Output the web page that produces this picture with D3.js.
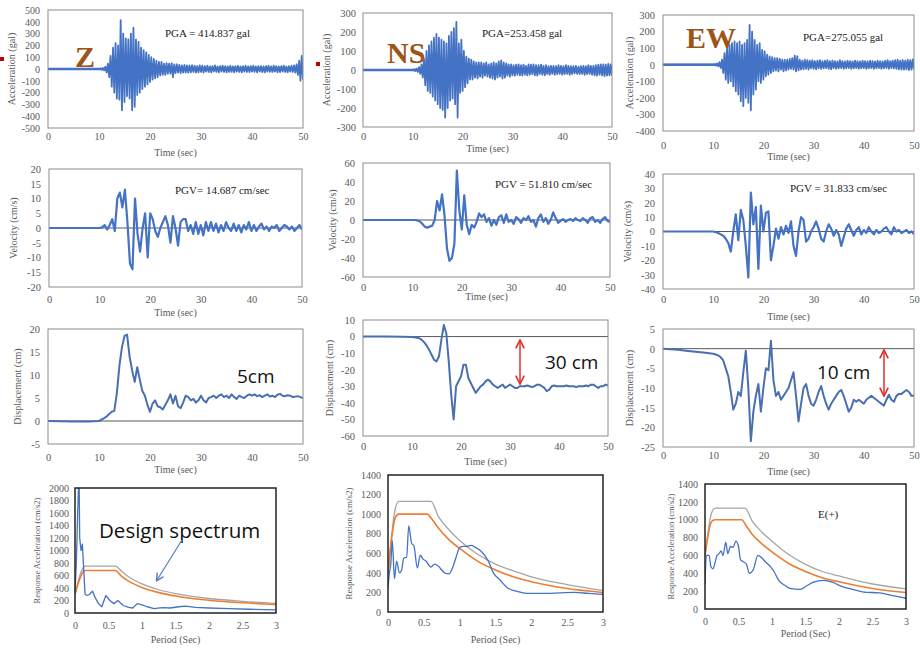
<!DOCTYPE html>
<html>
<head>
<meta charset="utf-8">
<script src="https://cdn.jsdelivr.net/npm/d3@7"></script>
<style>
  body { margin: 0; background: #fff; }
  svg { display: block; }
</style>
</head>
<body>
<script>
// ---- acceleration (gal), sampled every 0.25 s from t = 10 s ----
const accelZ = [
  0, 4, -5, 8, -12, 20, -30, 45,
  -70, 110, -150, 180, -200, 220, -250, 200,
  -260, 414, -350, 300, -280, 260, -230, 250,
  -250, 300, -350, 350, -320, 250, -220, 230,
  -200, 180, -170, 160, -150, 140, -130, 120,
  -110, 100, -90, 85, -80, 70, -70, 60,
  -55, 60, -50, 45, -50, 50, -40, 45,
  -40, 50, -70, 40, -35, 40, -30, 35,
  -35, 30, -30, 35, -30, 30, -30, 30,
  -28, 32, -25, 28, -30, 25, -28, 30,
  -25, 28, -30, 25, -22, 28, -25, 22,
  -28, 25, -22, 30, -25, 22, -28, 25,
  -22, 28, -25, 24, -28, 22, -25, 28,
  -24, 22, -28, 25, -22, 26, -25, 22,
  -28, 24, -22, 28, -25, 22, -26, 25,
  -22, 28, -24, 22, -28, 25, -22, 24,
  -26, 22, -28, 25, -22, 28, -24, 22,
  -25, 28, -22, 24, -28, 22, -26, 25,
  -22, 28, -25, 22, -28, 24, -22, 28,
  -25, 30, -30, 40, -50, 70, -100, 110,
  -90]
const accelNS = [
  0, 3, -5, 8, -10, 15, -20, 30,
  -40, 60, -80, 100, -110, 130, -120, 150,
  -140, 170, -160, 190, -180, 170, -200, 160,
  -210, 150, -250, 140, -200, 180, -160, 200,
  -150, 220, -180, 253, -250, 140, -120, 160,
  -110, 100, -90, 70, -70, 60, -50, 55,
  -50, 45, -40, 40, -45, 40, -35, 40,
  -40, 35, -30, 40, -35, 30, -40, 35,
  -45, 40, -50, 35, -40, 45, -35, 50,
  -45, 40, -40, 35, -30, 30, -35, 30,
  -28, 25, -30, 28, -25, 30, -28, 25,
  -30, 28, -25, 22, -28, 30, -25, 28,
  -22, 30, -28, 25, -30, 25, -22, 28,
  -25, 22, -28, 25, -22, 20, -25, 22,
  -20, 22, -25, 20, -22, 25, -20, 22,
  -25, 20, -22, 25, -20, 22, -25, 20,
  -22, 20, -18, 22, -20, 18, -22, 20,
  -20, 22, -25, 20, -22, 25, -20, 22,
  -25, 22, -28, 25, -30, 28, -25, 30,
  -28, 30, -32, 28, -30, 32, -28, 30,
  -30]
const accelEW = [
  0, 3, -5, 8, -10, 15, -20, 30,
  -50, 70, -90, 100, -110, 120, -100, 130,
  -130, 140, -160, 130, -180, 140, -220, 120,
  -250, 130, -200, 150, -230, 240, -275, 200,
  -180, 150, -150, 120, -100, 130, -110, 90,
  -90, 80, -70, 60, -60, 50, -50, 45,
  -40, 40, -35, 40, -40, 35, -30, 30,
  -40, 30, -35, 30, -30, 35, -25, 40,
  -30, 55, -40, 50, -35, 30, -30, 25,
  -28, 30, -25, 28, -30, 25, -22, 28,
  -25, 22, -28, 25, -22, 28, -25, 22,
  -22, 25, -20, 28, -25, 22, -28, 25,
  -20, 22, -25, 20, -22, 28, -20, 22,
  -25, 20, -22, 25, -20, 22, -25, 20,
  -22, 25, -20, 22, -25, 20, -22, 25,
  -20, 22, -25, 20, -22, 25, -20, 22,
  -25, 20, -22, 25, -20, 22, -25, 20,
  -22, 25, -20, 28, -25, 22, -20, 25,
  -22, 28, -25, 30, -28, 25, -30, 28,
  -30, 25, -28, 30, -32, 28, -30, 32,
  -28]

// ---- velocity (cm/s), every 0.5 s from t = 10 s ----
const velZ = [
  0, 0.2, 1, -0.5, 1, 3, -1, 10, 12, 7,
  13, 2, -12, -14, 10, -2, -8, 0, 5, -10,
  5, 3, -1, -3, 0, 2, 4, 1, -5, 4,
  0, -6, 2, 3, 3, -1, 1, -2, 2, -2,
  1, -2.5, 2, -1, 2, -1, 1.5, -1.5, 1, -1,
  2, 0, -1, 1.5, -1, 1, -1.5, 1, -0.5, 2,
  -1, 1, -1, 0.5, 1.5, -0.5, 0.5, -1, 0.5, 0,
  1, -1, 0, 1, 0.5, -0.5, 0.5, -1, 0, 1,
  -0.5]
const velNS = [
  0, 0, -0.5, -1.5, -4, -7, -8, -7, -6, 0,
  20, 10, 27, 5, -30, -43, -40, -25, 52, 10,
  -10, 26, -5, -15, -5, -8, -2, 7, 3, 6,
  -2, 2, -6, 0, -5, 3, 5, -3, 6, -2,
  0, -4, 3, 1, -3, 2, 0, 4, -2, 0,
  -7, 2, 6, -2, 2, -4, 0, 8, 2, -3,
  -1, 1, -2, 0, 1, -1, 2, 0, -1, 2,
  0, -3, 2, 3, -2, 0, -3, 1, 3, -1,
  -2]
const velEW = [
  0, -0.5, -1, -2, -3, -5, -8, -14, 0, 12,
  -6, 15, 8, -10, -32, 27, 5, 17, -26, 18,
  0, 13, 14, -20, -10, 2, -5, 3, -2, 4,
  -1, 7, -10, -17, 0, 10, 8, -7, -5, 0,
  3, 7, 2, -5, -7, 0, 5, 2, -3, 1,
  -2, -10, -4, 2, 5, 1, -3, 1, 3, -2,
  1, -1, 3, 0, -2, 1, -1, 0, 2, 3,
  0, -2, 3, 0, 1, -1, 0, 1, -1, 0,
  -2]

// ---- displacement (cm), every 0.5 s from t = 10 s ----
const dispZ = [
  0, 0.3, 0.6, 1.0, 1.5, 2, 2.2, 6, 12, 16,
  18.5, 18.8, 14, 11, 8.5, 11.7, 9, 6.5, 5.5, 3.5,
  2, 3.8, 4.5, 3.2, 3, 2.5, 3.5, 4.5, 5.8, 3.8,
  5.5, 3.2, 2.8, 4, 5.5, 5.2, 4.5, 4.8, 4, 4.5,
  5.5, 4.5, 4, 5, 5.2, 5.5, 5, 5.5, 5.8, 5.2,
  5.5, 5, 5.8, 5.2, 4.8, 5.5, 5.2, 5, 5.5, 5.8,
  5.5, 5.8, 5.4, 5.6, 5.2, 5.5, 5.8, 5.3, 5.5, 5.2,
  5.7, 5.9, 5.5, 5.4, 5.6, 5.5, 5.2, 5.3, 5.4, 5.2,
  5]
const dispNS = [
  -0.2, -0.4, -0.7, -1, -2, -3.5, -5.5, -8, -11, -14,
  -15, -12, -2, 7, 2, -15, -35, -50, -30, -27,
  -24, -17, -17, -25, -28, -31, -34, -32, -30, -29,
  -27, -26, -27, -29, -30, -31, -30, -29, -31, -30,
  -29, -30, -31, -31, -30, -30, -30, -29.5, -30, -30.5,
  -30, -29, -29, -30, -31, -33, -32, -30, -29.5, -30,
  -30, -30, -30, -29.5, -30, -30, -30, -30.5, -30, -30,
  -30, -29.5, -30, -29, -29, -30, -31, -30, -30, -29,
  -29.5]
const dispEW = [
  -1.3, -1.5, -1.7, -2.2, -3, -5, -7, -11, -15.5, -14,
  -11, -12, -6, -0.5, -10, -23.5, -16, -12, -9, -16,
  -10, -5, -5.5, 2, -8, -12, -11, -13, -12, -11,
  -10, -8, -6, -12, -18.5, -14, -10, -9, -12, -14,
  -14.5, -13, -11, -9.5, -12, -14, -15.5, -14, -13, -12,
  -11, -10.5, -12, -14, -16, -15, -13, -13.5, -13, -13.5,
  -14, -13, -12.5, -12, -12.5, -13, -13.5, -14, -14.5, -13,
  -11.7, -13, -13.5, -12, -11.5, -11.5, -11, -10.5, -11, -12,
  -12]

// quiet part before the event
const preT = [0, 5, 8]
const preDispZ = [0, -0.1, -0.1]
const preDispNS = [0, 0, -0.1]
const preTEW = [0, 3, 5, 8]
const preDispEW = [0, -0.3, -0.6, -1.0]

// ---- response spectra ----
const periodZ = [0, 0.02, 0.04, 0.06, 0.07, 0.09, 0.11, 0.13, 0.15, 0.18, 0.22, 0.26, 0.3, 0.35, 0.4, 0.46, 0.52, 0.58, 0.64, 0.72, 0.8, 0.86, 0.93, 1.0, 1.08, 1.18, 1.3, 1.42, 1.55, 1.65, 1.8, 2.0, 2.3, 2.6, 3.0]
const specZ = [350, 800, 1600, 2300, 1200, 1000, 1100, 700, 300, 280, 300, 350, 250, 150, 100, 280, 200, 150, 200, 120, 90, 80, 150, 130, 100, 70, 85, 80, 100, 110, 90, 80, 70, 60, 50]
const periodNS = [0, 0.02, 0.04, 0.06, 0.09, 0.12, 0.16, 0.19, 0.22, 0.26, 0.29, 0.33, 0.36, 0.41, 0.45, 0.49, 0.53, 0.6, 0.65, 0.7, 0.79, 0.85, 0.9, 0.95, 1.0, 1.05, 1.1, 1.16, 1.22, 1.3, 1.4, 1.47, 1.56, 1.66, 1.8, 1.94, 2.2, 2.4, 2.6, 2.8, 3.0]
const specNS = [250, 400, 500, 730, 340, 520, 400, 430, 550, 560, 880, 700, 680, 450, 580, 540, 520, 460, 490, 470, 400, 390, 450, 560, 660, 670, 670, 680, 660, 620, 520, 400, 330, 250, 210, 190, 190, 195, 200, 190, 180]
const periodEW = [0, 0.02, 0.06, 0.09, 0.12, 0.15, 0.18, 0.21, 0.24, 0.27, 0.31, 0.34, 0.38, 0.42, 0.46, 0.5, 0.53, 0.57, 0.62, 0.66, 0.72, 0.79, 0.85, 0.9, 0.97, 1.03, 1.1, 1.2, 1.27, 1.42, 1.52, 1.62, 1.77, 1.9, 2.05, 2.2, 2.37, 2.6, 2.8, 3.0]
const specEW = [280, 600, 600, 470, 450, 520, 600, 620, 650, 600, 750, 620, 700, 690, 760, 700, 550, 530, 500, 400, 440, 600, 570, 530, 480, 420, 320, 260, 230, 220, 260, 300, 320, 300, 250, 220, 190, 180, 150, 120]

const designTZ = [0, 0.15, 0.6, 0.7, 0.8, 1, 1.25, 1.5, 1.75, 2, 2.5, 3]
const designOrangeZ = [300, 680, 680, 583, 510, 408, 326, 272, 233, 204, 163, 136]
const designGrayZ = [300, 750, 750, 664, 581, 465, 372, 310, 266, 232, 186, 155]
const designT = [0, 0.1, 0.15, 0.55, 0.6, 0.7, 0.85, 1, 1.25, 1.5, 1.75, 2, 2.5, 3]
const designOrangeNS = [400, 960, 1000, 1000, 960, 860, 740, 650, 520, 430, 360, 310, 240, 200]
const designGrayNS = [400, 1050, 1130, 1130, 1130, 980, 840, 730, 590, 490, 420, 360, 280, 220]
const designOrangeEW = [600, 980, 1000, 1000, 950, 840, 730, 640, 510, 420, 350, 305, 230, 185]
const designGrayEW = [600, 1080, 1130, 1130, 1130, 990, 860, 760, 610, 500, 420, 370, 280, 225]

// tick labels
const timeTicks = [0, 10, 20, 30, 40, 50]
const periodTicks = [0, 0.5, 1, 1.5, 2, 2.5, 3]

const BLUE = '#4472c4', ORANGE = '#ed7d31', GRAY = '#a5a5a5'
const SERIF = '"Liberation Serif", "DejaVu Serif", serif'
const SANS = '"Open Sans", "Liberation Sans", sans-serif'

var svg = d3.select('body').append('svg')
  .attr('width', 920).attr('height', 649)
svg.append('rect').attr('width', 920).attr('height', 649).attr('fill', '#fff')

function series(t0, dt, vals, pt, pv) {
  let out = []
  if (pt) pt.forEach((t, i) => out.push([t, pv[i]]))
  vals.forEach((v, i) => out.push([t0 + i * dt, v]))
  return out
}
function pairs(ts, vs) { return ts.map((t, i) => [t, vs[i]]) }

let clipId = 0
function panel(p) {
  const x = d3.scaleLinear().domain(p.xd).range([p.left, p.right])
  const y = d3.scaleLinear().domain(p.yd).range([p.bottom, p.top])
  const g = svg.append('g')
  const id = 'clip' + (clipId++)
  svg.append('clipPath').attr('id', id).append('rect')
    .attr('x', p.left).attr('y', p.top)
    .attr('width', p.right - p.left).attr('height', p.bottom - p.top)

  const xa = g.append('g').attr('transform', 'translate(0,' + p.bottom + ')')
    .call(d3.axisBottom(x).tickValues(p.xt).tickSize(0)
      .tickPadding(p.labY - p.bottom - 4).tickFormat(d => String(d)))
  const ya = g.append('g').attr('transform', 'translate(' + p.left + ',0)')
    .call(d3.axisLeft(y).tickValues(d3.range(p.yd[0], p.yd[1] + p.ys / 2, p.ys))
      .tickSize(0).tickPadding(p.yPad || 8).tickFormat(d => String(d)))
  ;[xa, ya].forEach(a => {
    a.attr('font-family', null)
    a.select('.domain').remove()
    a.selectAll('text').attr('fill', '#595959')
      .style('font-family', SERIF).style('font-size', (p.fs || 10.5) + 'px')
  })

  const plot = g.append('g').attr('clip-path', 'url(#' + id + ')')
  if (p.zero) {
    plot.append('line').attr('x1', p.left).attr('x2', p.right)
      .attr('y1', y(0)).attr('y2', y(0))
      .attr('stroke', p.zeroColor || '#595959').attr('stroke-width', p.zeroW || 1)
  }
  const line = d3.line().x(d => x(d[0])).y(d => y(d[1]))
  p.lines.forEach(l => {
    plot.append('path').datum(l.data)
      .attr('d', line.curve(l.curve || d3.curveLinear))
      .attr('fill', 'none').attr('stroke', l.color)
      .attr('stroke-width', l.w).attr('stroke-linejoin', 'round')
  })

  g.append('rect').attr('x', p.left).attr('y', p.top)
    .attr('width', p.right - p.left).attr('height', p.bottom - p.top)
    .attr('fill', 'none').attr('stroke', p.frame || '#8c8c8c')
    .attr('stroke-width', p.frameW || 1)

  g.append('text').attr('x', (p.left + p.right) / 2).attr('y', p.titleY)
    .attr('text-anchor', 'middle').attr('fill', '#595959')
    .style('font-family', SERIF).style('font-size', '10px').text(p.xTitle)
  g.append('text')
    .attr('transform', 'translate(' + p.yTitleX + ',' + ((p.top + p.bottom) / 2) + ') rotate(-90)')
    .attr('text-anchor', 'middle').attr('fill', '#595959')
    .style('font-family', SERIF).style('font-size', (p.yTitleFs || 10) + 'px').text(p.yTitle)
}

// row 1: acceleration
panel({ left: 48, right: 303, top: 10, bottom: 128, xd: [0, 50], yd: [-500, 500], ys: 100,
  xt: timeTicks, labY: 137, titleY: 156, xTitle: 'Time (sec)', yTitle: 'Acceleration (gal)', yTitleX: 15,
  zero: true, zeroColor: BLUE, zeroW: 2.5, fs: 10,
  lines: [{ data: series(10, 0.25, accelZ, [0], [0]), color: BLUE, w: 1.8 }] })
panel({ left: 363, right: 612, top: 13, bottom: 127, xd: [0, 50], yd: [-300, 300], ys: 100,
  xt: timeTicks, labY: 137, titleY: 152, xTitle: 'Time (sec)', yTitle: 'Acceleration (gal)', yTitleX: 330,
  zero: true, zeroColor: BLUE, zeroW: 2.5, yPad: 7,
  lines: [{ data: series(10, 0.25, accelNS, [0], [0]), color: BLUE, w: 1.8 }] })
panel({ left: 663, right: 914, top: 15, bottom: 131, xd: [0, 50], yd: [-400, 300], ys: 100,
  xt: timeTicks, labY: 146, titleY: 160, xTitle: 'Time (sec)', yTitle: 'Acceleration (gal)', yTitleX: 633,
  zero: true, zeroColor: BLUE, zeroW: 2.5,
  lines: [{ data: series(10, 0.25, accelEW, [0], [0]), color: BLUE, w: 1.8 }] })

// row 2: velocity
panel({ left: 49, right: 302, top: 169, bottom: 287, xd: [0, 50], yd: [-20, 20], ys: 5,
  xt: timeTicks, labY: 300, titleY: 316, xTitle: 'Time (sec)', yTitle: 'Velocity (cm/s)', yTitleX: 17,
  zero: true,
  lines: [{ data: series(10, 0.5, velZ, [0], [0]), color: BLUE, w: 2.2 }] })
panel({ left: 363, right: 610, top: 163, bottom: 277, xd: [0, 50], yd: [-60, 60], ys: 20,
  xt: timeTicks, labY: 288, titleY: 300, xTitle: 'Time (sec)', yTitle: 'Velocity (cm/s)', yTitleX: 336,
  zero: true,
  lines: [{ data: series(10, 0.5, velNS, [0], [0]), color: BLUE, w: 2.2 }] })
panel({ left: 663, right: 914, top: 174, bottom: 289, xd: [0, 50], yd: [-40, 40], ys: 10,
  xt: timeTicks, labY: 300, titleY: 320, xTitle: 'Time (sec)', yTitle: 'Velocity (cm/s)', yTitleX: 631,
  zero: true,
  lines: [{ data: series(10, 0.5, velEW, [0], [0]), color: BLUE, w: 2.2 }] })

// row 3: displacement
panel({ left: 48, right: 303, top: 329, bottom: 444, xd: [0, 50], yd: [-5, 20], ys: 5,
  xt: timeTicks, labY: 458, titleY: 473, xTitle: 'Time (sec)', yTitle: 'Displacement (cm)', yTitleX: 21,
  zero: true,
  lines: [{ data: series(10, 0.5, dispZ, preT, preDispZ), color: '#4a6fb0', w: 2 }] })
panel({ left: 363, right: 608, top: 320, bottom: 436, xd: [0, 50], yd: [-60, 10], ys: 10,
  xt: timeTicks, labY: 447, titleY: 465, xTitle: 'Time (sec)', yTitle: 'Displacement (cm)', yTitleX: 333,
  zero: true,
  lines: [{ data: series(10, 0.5, dispNS, preT, preDispNS), color: '#4a6fb0', w: 2 }] })
panel({ left: 663, right: 914, top: 329, bottom: 447, xd: [0, 50], yd: [-25, 5], ys: 5,
  xt: timeTicks, labY: 456, titleY: 475, xTitle: 'Time (sec)', yTitle: 'Displacement (cm)', yTitleX: 633,
  zero: true,
  lines: [{ data: series(10, 0.5, dispEW, preTEW, preDispEW), color: '#4a6fb0', w: 2 }] })

// row 4: response spectra
const smooth = d3.curveMonotoneX
panel({ left: 75, right: 276, top: 488, bottom: 613, xd: [0, 3], yd: [0, 2000], ys: 200,
  xt: periodTicks, labY: 626, titleY: 643, xTitle: 'Period (Sec)', yTitle: 'Response Acceleration (cm/s2)',
  yTitleX: 40, yTitleFs: 8.5, fs: 10, yPad: 6, frame: '#222', frameW: 1.5,
  lines: [
    { data: pairs(designTZ, designGrayZ), color: GRAY, w: 1.3, curve: smooth },
    { data: pairs(designTZ, designOrangeZ), color: ORANGE, w: 1.6, curve: smooth },
    { data: pairs(periodZ, specZ), color: BLUE, w: 1.3 }] })
panel({ left: 388, right: 603, top: 475, bottom: 612, xd: [0, 3], yd: [0, 1400], ys: 200,
  xt: periodTicks, labY: 623, titleY: 643, xTitle: 'Period (Sec)', yTitle: 'Response Acceleration (cm/s2)',
  yTitleX: 352, yTitleFs: 9, fs: 10, yPad: 7, frame: '#222', frameW: 1.5,
  lines: [
    { data: pairs(designT, designGrayNS), color: GRAY, w: 1.3, curve: smooth },
    { data: pairs(designT, designOrangeNS), color: ORANGE, w: 1.6, curve: smooth },
    { data: pairs(periodNS, specNS), color: BLUE, w: 1.3, curve: smooth }] })
panel({ left: 705, right: 906, top: 484, bottom: 609, xd: [0, 3], yd: [0, 1400], ys: 200,
  xt: periodTicks, labY: 622, titleY: 637, xTitle: 'Period (Sec)', yTitle: 'Response Acceleration (cm/s2)',
  yTitleX: 674, yTitleFs: 8.5, fs: 10, yPad: 7, frame: '#222', frameW: 1.5,
  lines: [
    { data: pairs(designT, designGrayEW), color: GRAY, w: 1.3, curve: smooth },
    { data: pairs(designT, designOrangeEW), color: ORANGE, w: 1.6, curve: smooth },
    { data: pairs(periodEW, specEW), color: BLUE, w: 1.3, curve: smooth }] })

// annotations
function label(x, y, txt, size, opts) {
  opts = opts || {}
  return svg.append('text').attr('x', x).attr('y', y)
    .attr('text-anchor', opts.anchor || 'start')
    .attr('fill', opts.color || '#222')
    .style('font-family', opts.font || SERIF)
    .style('font-size', size + 'px')
    .style('font-weight', opts.bold ? 'bold' : 'normal')
    .text(txt)
}
const BROWN = '#9c5418'
label(75, 67, 'Z', 30, { bold: true, color: BROWN })
label(387, 63, 'NS', 30, { bold: true, color: BROWN })
label(686, 48, 'EW', 30, { bold: true, color: BROWN })

label(165, 37, 'PGA = 414.837 gal', 11)
label(482, 37, 'PGA=253.458 gal', 11)
label(803, 41, 'PGA=275.055 gal', 11)
label(175, 194, 'PGV= 14.687 cm/sec', 11)
label(495, 188, 'PGV = 51.810 cm/sec', 11)
label(790, 192, 'PGV = 31.833 cm/sec', 11)

label(237, 383, '5cm', 19, { font: SANS, color: '#111' })
label(545, 369, '30 cm', 19, { font: SANS, color: '#111' })
label(817, 379, '10 cm', 19, { font: SANS, color: '#111' })
label(99, 538, 'Design spectrum', 20.5, { font: SANS, color: '#111' })
label(818, 518, 'E(+)', 11)

// red double arrows and the blue pointer
const defs = svg.append('defs')
function head(id, color) {
  defs.append('marker').attr('id', id).attr('viewBox', '0 0 10 10')
    .attr('refX', 8).attr('refY', 5).attr('markerWidth', 7).attr('markerHeight', 7)
    .attr('orient', 'auto-start-reverse')
    .append('path').attr('d', 'M1,1 L9,5 L1,9').attr('fill', 'none')
    .attr('stroke', color).attr('stroke-width', 1.6)
}
head('redHead', '#e03030')
head('blueHead', '#5a7dbf')
svg.append('line').attr('x1', 520).attr('y1', 341).attr('x2', 520).attr('y2', 383)
  .attr('stroke', '#e03030').attr('stroke-width', 1.5)
  .attr('marker-start', 'url(#redHead)').attr('marker-end', 'url(#redHead)')
svg.append('line').attr('x1', 884).attr('y1', 351).attr('x2', 884).attr('y2', 395)
  .attr('stroke', '#e03030').attr('stroke-width', 1.5)
  .attr('marker-start', 'url(#redHead)').attr('marker-end', 'url(#redHead)')
svg.append('line').attr('x1', 182).attr('y1', 540).attr('x2', 157).attr('y2', 580)
  .attr('stroke', '#5a7dbf').attr('stroke-width', 1.3)
  .attr('marker-end', 'url(#blueHead)')

// small red marks at the edges
svg.append('rect').attr('x', 0).attr('y', 57).attr('width', 4).attr('height', 4).attr('fill', '#c00000')
svg.append('rect').attr('x', 316).attr('y', 62).attr('width', 4).attr('height', 4).attr('fill', '#c00000')
</script>
</body>
</html>
